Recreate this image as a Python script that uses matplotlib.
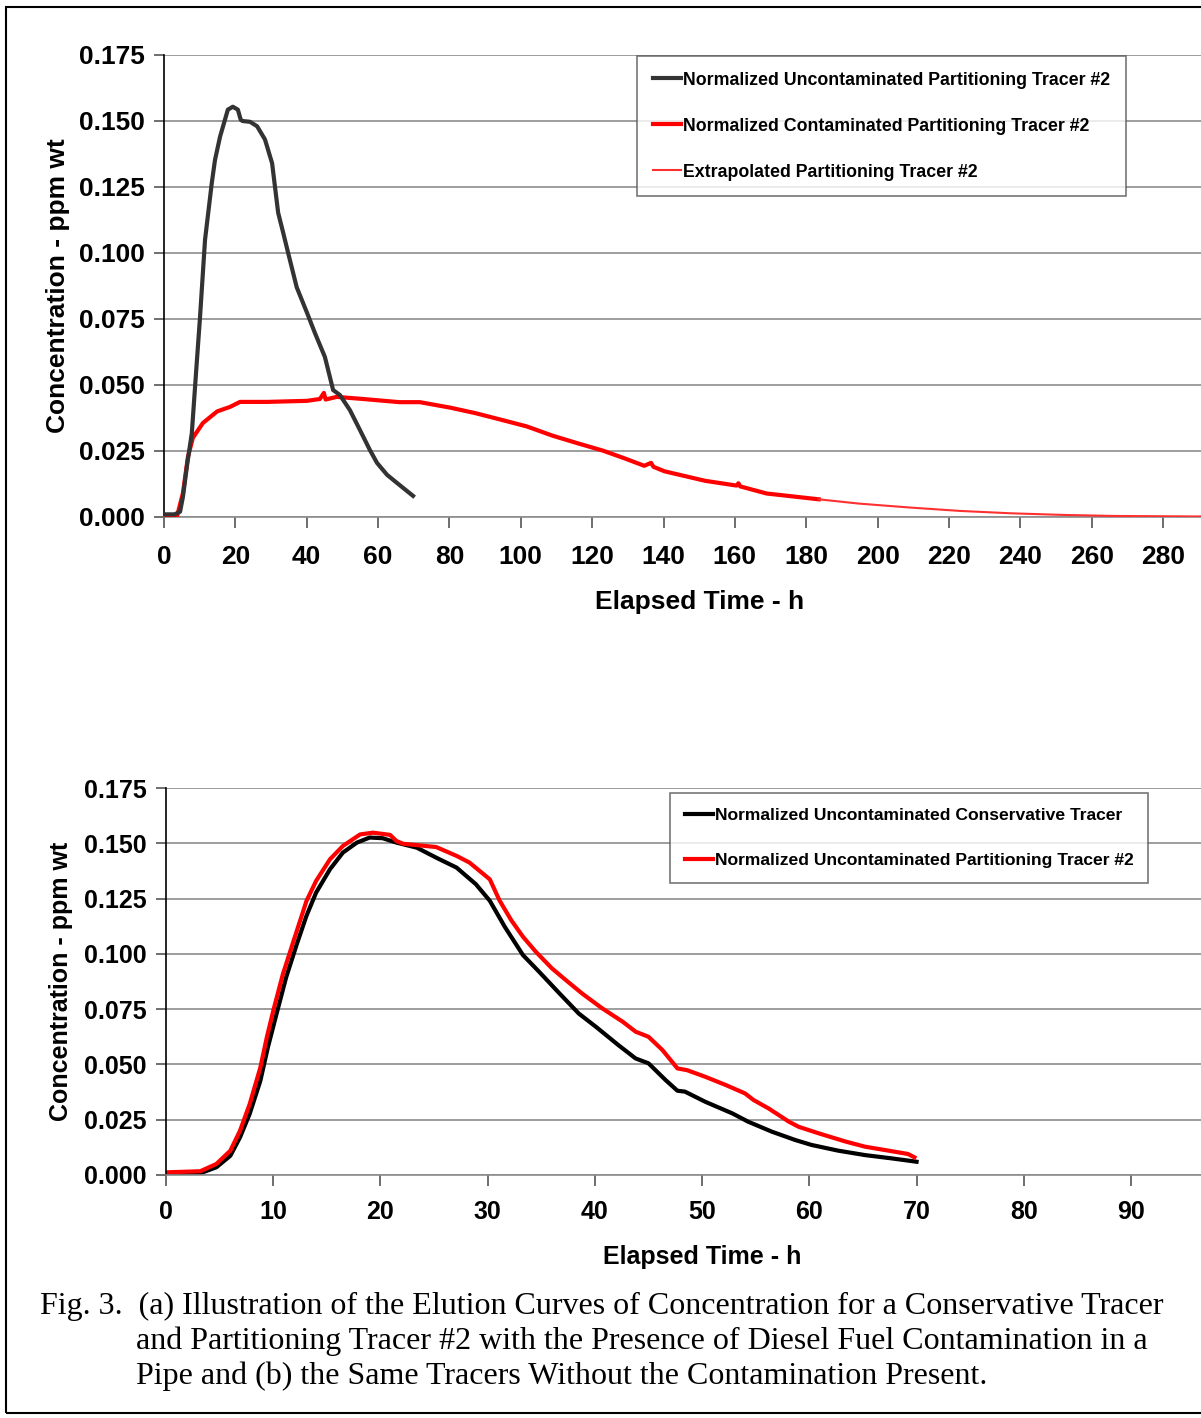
import numpy as np
import matplotlib.pyplot as plt
from matplotlib.patches import Rectangle

# (a) with contamination
t_unc_a = [0, 3, 4.5, 5.3, 6.5, 7.8, 9, 10.1, 11.5, 13.4, 14.3, 15.7, 17.9, 19.3, 20.7, 21.5,
           22, 24.1, 26.1, 28.3, 30.3, 32.0, 33.4, 34.8, 37.2, 40.1, 42.3, 45.1, 47.4, 49.3,
           52.1, 54.9, 57.7, 59.7, 62.5, 65.3, 69.8]
c_unc_a = [0.001, 0.001, 0.002, 0.0076, 0.020, 0.0318, 0.055, 0.0758, 0.105, 0.1266, 0.1353,
           0.144, 0.1543, 0.1554, 0.1543, 0.1505, 0.150, 0.1497, 0.148, 0.143, 0.134, 0.1152,
           0.1077, 0.100, 0.087, 0.0773, 0.0697, 0.0606, 0.0481, 0.0462, 0.0405, 0.033, 0.0254,
           0.0205, 0.016, 0.0129, 0.008]

t_con_a = [0, 3.6, 5.3, 6.7, 8.1, 10.9, 14.9, 18.5, 21.3, 28.9, 40.1, 43.7, 44.8, 45.3, 48.4,
           55.8, 66, 71.7, 80.3, 87.4, 94.6, 101.7, 108.9, 116, 123.1, 128.9, 134.6, 136.5,
           137.2, 140.3, 151.7, 160.5, 161, 161.5, 168.9, 183.5]
c_con_a = [0.0, 0.0, 0.009, 0.0227, 0.030, 0.0356, 0.040, 0.0417, 0.0436, 0.0436, 0.044,
           0.0447, 0.047, 0.0445, 0.0455, 0.0447, 0.0435, 0.0435, 0.0414, 0.0393, 0.0368,
           0.0343, 0.0308, 0.0279, 0.0251, 0.0223, 0.0194, 0.0205, 0.019, 0.0173, 0.0137,
           0.0119, 0.0128, 0.0116, 0.0089, 0.0067]

t_ext_a = [183.5, 194.6, 208.9, 223.1, 237.4, 251.7, 266, 290, 300]
c_ext_a = [0.0067, 0.0051, 0.0036, 0.0023, 0.0014, 0.0008, 0.0004, 0.0002, 0.0001]

# (b) without contamination
t_cons_b = [0, 3.2, 4.7, 6.0, 6.9, 7.8, 8.8, 9.5, 10.3, 11.2, 12.2, 13.1, 14.0, 15.3, 16.5,
            17.8, 19.0, 20.2, 21.5, 23.4, 25.2, 27.1, 28.9, 30.2, 31.6, 33.3, 34.8, 36.7,
            38.5, 40.1, 42.2, 43.8, 45.0, 46.6, 47.7, 48.4, 50.3, 52.8, 54.3, 56.5, 58.7,
            60.2, 62.7, 65.2, 67.7, 70.0]
c_cons_b = [0.0008, 0.0008, 0.0035, 0.0087, 0.017, 0.0276, 0.0426, 0.0577, 0.0727, 0.0893,
            0.1044, 0.1172, 0.1277, 0.1383, 0.1458, 0.1503, 0.1526, 0.1523, 0.1503, 0.148,
            0.1435, 0.139, 0.1315, 0.124, 0.1122, 0.0994, 0.0919, 0.0821, 0.073, 0.067,
            0.0587, 0.0527, 0.0505, 0.0429, 0.0381, 0.0377, 0.0331, 0.0279, 0.0241, 0.0196,
            0.0158, 0.0136, 0.011, 0.009, 0.0075, 0.006]

t_part_b = [0, 3.2, 4.7, 6.0, 6.9, 7.8, 8.8, 9.4, 10.0, 10.9, 11.9, 13.1, 14.0, 15.3, 16.5,
            18.1, 19.3, 20.9, 21.5, 22.1, 25.2, 27.1, 28.3, 30.2, 31.1, 32.2, 33.3, 34.5,
            36.0, 37.3, 38.8, 40.7, 42.6, 43.8, 45.0, 46.3, 47.7, 48.6, 50.3, 52.2, 54.0,
            54.8, 56.2, 58.1, 59.0, 60.9, 63.4, 65.2, 67.4, 69.2, 69.8]
c_part_b = [0.0012, 0.0017, 0.005, 0.011, 0.020, 0.032, 0.0486, 0.0622, 0.0742, 0.0908,
            0.1059, 0.1239, 0.133, 0.1428, 0.1488, 0.154, 0.1548, 0.1538, 0.151, 0.1498,
            0.1483, 0.1443, 0.1413, 0.1337, 0.1242, 0.1152, 0.1077, 0.1009, 0.0934, 0.0881,
            0.0821, 0.0753, 0.0693, 0.0648, 0.0625, 0.0565, 0.0482, 0.0474, 0.0444, 0.0407,
            0.0369, 0.0339, 0.0301, 0.0241, 0.0218, 0.0188, 0.0151, 0.0128, 0.011, 0.0095,
            0.008]

yticks = [0.0, 0.025, 0.05, 0.075, 0.1, 0.125, 0.15, 0.175]
xticks_a = list(range(0, 281, 20))
xticks_b = list(range(0, 91, 10))

caption = ["Fig. 3.  (a) Illustration of the Elution Curves of Concentration for a Conservative Tracer",
           "and Partitioning Tracer #2 with the Presence of Diesel Fuel Contamination in a",
           "Pipe and (b) the Same Tracers Without the Contamination Present."]

plt.rcParams['font.family'] = ['Liberation Sans', 'DejaVu Sans']
W, H = 1201, 1418
fig = plt.figure(figsize=(W / 100, H / 100), dpi=100)


def style_axes(ax, xticks, xmax, fs, xpad, ylpad, xlpad):
    ax.set_xlim(0, xmax)
    ax.set_ylim(0, 0.175)
    ax.set_xticks(xticks)
    ax.set_yticks(yticks)
    ax.set_yticklabels(['%.3f' % v for v in yticks])
    ax.grid(axis='y', color='#8c8c8c', lw=1.2)
    ax.set_axisbelow(True)
    for s in ['top', 'right']:
        ax.spines[s].set_visible(False)
    ax.spines['left'].set_color('black')
    ax.spines['left'].set_linewidth(1.2)
    ax.spines['bottom'].set_color('#8c8c8c')
    ax.spines['bottom'].set_linewidth(1.2)
    ax.tick_params(axis='x', length=8, width=1.2, color='#555555', pad=xpad, labelsize=fs)
    ax.tick_params(axis='y', length=7, width=1.2, color='#555555', pad=7, labelsize=fs)
    for lab in ax.get_xticklabels() + ax.get_yticklabels():
        lab.set_fontweight('bold')
    ax.set_xlabel('Elapsed Time - h', fontsize=fs, fontweight='bold', labelpad=xlpad)
    ax.set_ylabel('Concentration - ppm wt', fontsize=fs, fontweight='bold', labelpad=ylpad)


# top panel (x axis runs past the right edge of the page, to 300 h)
xr_a = 164 + 300 * (1163 - 164) / 280
ax1 = fig.add_axes([164 / W, 1 - 517 / H, (xr_a - 164) / W, (517 - 55) / H])
ax1.plot(t_con_a, c_con_a, color='#ff0000', lw=3, zorder=3,
         label='Normalized Contaminated Partitioning Tracer #2')
ax1.plot(t_ext_a, c_ext_a, color='#ff3030', lw=1.5, zorder=3,
         label='Extrapolated Partitioning Tracer #2')
ax1.plot(t_unc_a, c_unc_a, color='#333333', lw=3, zorder=4,
         label='Normalized Uncontaminated Partitioning Tracer #2')
style_axes(ax1, xticks_a, 300, 19, 12.5, 6.5, 15)
h, l = ax1.get_legend_handles_labels()
leg1 = ax1.legend([h[2], h[0], h[1]], [l[2], l[0], l[1]], loc='upper left',
                  bbox_to_anchor=(637 / W, 1 - 56 / H), bbox_transform=fig.transFigure,
                  prop={'weight': 'bold', 'size': 12.8}, frameon=True, fancybox=False,
                  edgecolor='#555555', handlelength=1.6, handletextpad=0.1,
                  labelspacing=1.63, borderpad=0.88, borderaxespad=0)
leg1.get_frame().set_linewidth(1.2)

# bottom panel (x axis runs to 100 h)
xr_b = 166 + 100 * (1131 - 166) / 90
ax2 = fig.add_axes([166 / W, 1 - 1175 / H, (xr_b - 166) / W, (1175 - 788) / H])
ax2.plot(t_cons_b, c_cons_b, color='black', lw=3,
         label='Normalized Uncontaminated Conservative Tracer')
ax2.plot(t_part_b, c_part_b, color='#ff0000', lw=3,
         label='Normalized Uncontaminated Partitioning Tracer #2')
style_axes(ax2, xticks_b, 100, 18, 10, 8, 15)
leg2 = ax2.legend(loc='upper left', bbox_to_anchor=(670 / W, 1 - 793 / H),
                  bbox_transform=fig.transFigure,
                  prop={'weight': 'bold', 'size': 12.6}, frameon=True, fancybox=False,
                  edgecolor='#555555', handlelength=1.6, handletextpad=0.1,
                  labelspacing=1.68, borderpad=0.85, borderaxespad=0)
leg2.get_frame().set_linewidth(1.2)

# caption
fig.text(40 / W, 1 - 1306 / H, caption[0], family='Liberation Serif', fontsize=23, va='center')
fig.text(136 / W, 1 - 1341 / H, caption[1], family='Liberation Serif', fontsize=23, va='center')
fig.text(136 / W, 1 - 1376 / H, caption[2], family='Liberation Serif', fontsize=23, va='center')

# frame around the figure
fig.patches.append(Rectangle((6 / W, 5 / H), 1.2, 1 - 12 / H, transform=fig.transFigure,
                             fill=False, edgecolor='black', lw=1.5))

fig.savefig('out.png', dpi=100)
